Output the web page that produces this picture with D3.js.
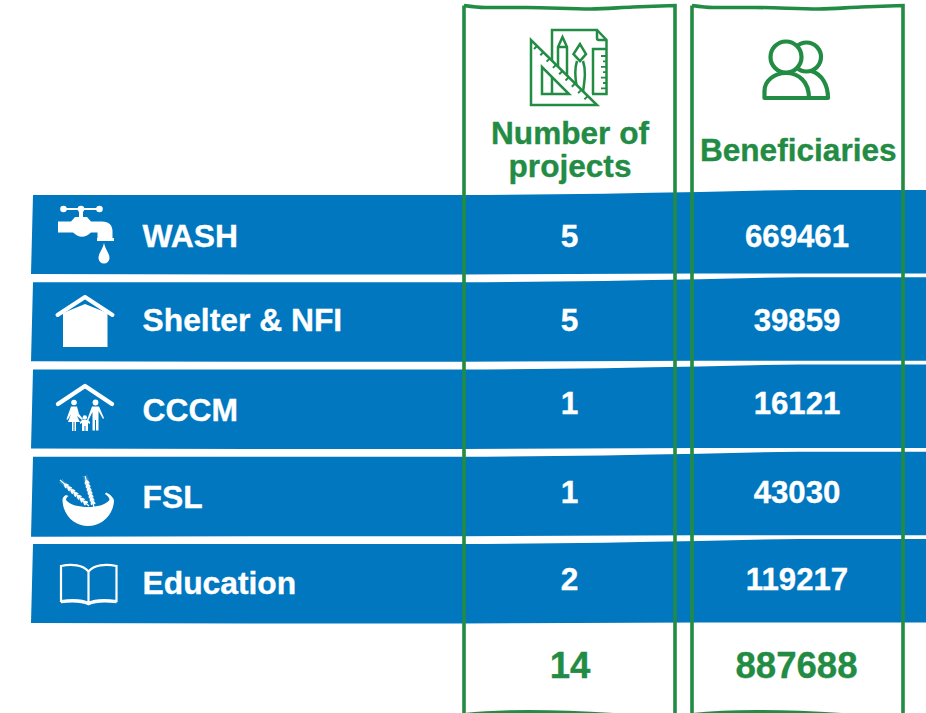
<!DOCTYPE html>
<html><head><meta charset="utf-8"><script src="https://cdn.jsdelivr.net/npm/d3@7"></script>
<style>html,body{margin:0;padding:0;background:#fff}svg{display:block}text{font-family:"Liberation Sans",Arial,sans-serif;font-weight:700;stroke:currentColor;stroke-width:.35px}</style></head>
<body><svg id="c" width="926" height="713"></svg>
<script>
const categories=["WASH","Shelter & NFI","CCCM","FSL","Education"];
const projects=[5,5,1,1,2];
const beneficiaries=[669461,39859,16121,43030,119217];
const totalLabels=["14","887688"];
const columnTitles=[["Number of","projects"],["Beneficiaries"]];
const BLUE="#0077bf",GREEN="#238c44";
const svg=d3.select("#c");
const y=d3.scaleBand().domain(categories).range([195,623]).paddingInner(0.0946).paddingOuter(0);
const xc=d3.scaleOrdinal().domain(["p","b"]).range([569.5,797]);
const labelBase=[52,48.75,51.5,51.25,50];
const valueBase=[52,48.75,44.5,46.25,46];
const addText=(g,x,yy,t,size,col,anchor)=>g.append("text").attr("x",x).attr("y",yy).attr("text-anchor",anchor||"middle").attr("font-size",size).attr("fill",col).style("color",col).text(t);
const rowG=svg.append("g");
categories.forEach((c,i)=>{
  const t=y(c),b=t+y.bandwidth();
  const top=[[33,t],[250,t],[460,t],[700,t-3],[800,t-5],[926,t-5]];
  const bot=[[926,b-.5],[700,b-.5],[460,b+.5],[250,b+.5],[31,b+(i==3?1:0)]];
  const dTop=d3.line().curve(d3.curveMonotoneX)(top);
  const dBot=d3.line()(bot);
  rowG.append("path").attr("d",dTop+"L"+dBot.slice(1)+"Z").attr("fill",BLUE);
  addText(rowG,142.5,t+labelBase[i],c,31.8,"#fff","start");
  addText(rowG,xc("p"),t+valueBase[i],projects[i],31.6,"#fff");
  addText(rowG,xc("b"),t+valueBase[i],beneficiaries[i],31.2,"#fff");
});
// column frames
[[464,675],[692,903]].forEach(([l,r])=>{
  const w=r-l;
  const frameTop=[[l,5.5],[l+w*.1,7.5],[l+w*.3,7.5],[l+w*.6,9],[l+w*.8,7],[r,5.5]];
  const d=d3.line().curve(d3.curveMonotoneX)(frameTop);
  svg.append("path").attr("d",d+"L"+r+",713M"+l+",5.5L"+l+",713").attr("fill","none").attr("stroke",GREEN).attr("stroke-width",3.6);
  svg.append("path").attr("d",`M${l},713 Q${l+55},707 ${l+150},713 Z`).attr("fill",GREEN);
});
// titles
addText(svg,570,143.5,columnTitles[0][0],31.6,GREEN);
addText(svg,570,177,columnTitles[0][1],31.6,GREEN);
addText(svg,798.3,160.5,columnTitles[1][0],31.6,GREEN);
addText(svg,570,678,totalLabels[0],36.6,GREEN);
addText(svg,796.5,678,totalLabels[1],36.6,GREEN);
// people icon
const pe=svg.append("g").attr("fill","none").attr("stroke",GREEN).attr("stroke-width",4.2).attr("stroke-linejoin","round");
pe.append("circle").attr("cx",806.5).attr("cy",57).attr("r",14.5);
pe.append("path").attr("d","M811,71 C822,74 828,85 828,98 H808");
pe.append("circle").attr("cx",786).attr("cy",57).attr("r",15.5).attr("fill","#fff");
pe.append("path").attr("d","M764.5,98 V91 C764.5,81 774,73 786,73 C799,73 809,82 809,98 Z").attr("fill","#fff");
// design tools icon
const de=svg.append("g").attr("fill","none").attr("stroke",GREEN).attr("stroke-width",2.5).attr("stroke-linejoin","miter");
de.append("path").attr("d","M552,62 V30 H597 L606.5,40 V94 H592");
de.append("path").attr("d","M597,30 V38 Q597,40 599,40 H606.5");
de.append("path").attr("d","M558,80 V47 L562.5,37 L567,47 V85 M558,47 H567");
de.append("path").attr("d","M580,44 L573.5,54 L580,61 L586,54 Z M577,61 C574,70 575,78 577,88 M583,61 C586,70 585,78 583,92");
de.append("path").attr("d","M593,94 V49 H606.5");
de.append("path").attr("d","M531,40 V105 H597 Z").attr("fill","#fff");
de.append("path").attr("d","M542,67 V94 H569 Z");
de.append("path").attr("d","M552,77 V94");
de.append("path").attr("d",d3.range(9).map(k=>`M${537+k*6.3},${46+k*6.3} l-3,3`).join("")).attr("stroke-width",2);
de.append("path").attr("d",d3.range(7).map(k=>`M606,${56+k*5.4} h-${k%2?3:5}`).join("")).attr("stroke-width",1.8);
// white row icons
const ic=svg.append("g").attr("fill","#fff");
const stroke=(d,sw)=>ic.append("path").attr("d",d).attr("fill","none").attr("stroke","#fff").attr("stroke-width",sw).attr("stroke-linecap","round").attr("stroke-linejoin","round");
// tap
stroke("M63,209 H99",2.2);
[63.5,81,99.5].forEach(cx=>ic.append("circle").attr("cx",cx).attr("cy",209).attr("r",3.3));
ic.append("path").attr("d","M79,209 h4 v9 h-4 Z");
ic.append("path").attr("d","M58,221.5 H71 L75,217 H87 L91,221.5 H102 Q112.5,221.5 112.5,232 V238 H114 V241 H97 V238 H97.5 V232.5 H91 Q82,241 73,232.5 H58 Z");
ic.append("path").attr("d","M104,243 C105.5,250 109.5,253 109.5,258 A5.5,5.5 0 0 1 98.5,258 C98.5,253 102.5,250 104,243 Z");
// house
ic.append("path").attr("d","M63,313 L85,304 L107.5,313 V347 H63 Z");
stroke("M57.5,315 L85,297 L112.5,315",4);
// family under roof
stroke("M58,404 L85,386 L112,404",4.4);
ic.append("circle").attr("cx",74).attr("cy",402.5).attr("r",2.8);
ic.append("circle").attr("cx",95.5).attr("cy",402.5).attr("r",2.9);
ic.append("circle").attr("cx",84.8).attr("cy",417.5).attr("r",2.2);
ic.append("path").attr("d","M71,406.5 H77 L79,414 L83,419 L82,420 L77,416 L80,422 H76 V431 H74.5 V422 H73.5 V431 H72 V422 H68 L71,414 L67.5,420 L66.5,419 Z");
ic.append("path").attr("d","M92,406.5 H99 L104,418 L103,419 L98.5,411 V430.5 H96 V420 H95 V430.5 H92.5 V412 L88,421 L87,420 Z");
ic.append("path").attr("d","M82,420 H88 L90,422 V424 L88,423 V431 H85.5 V426 H84.5 V431 H82 V423 L80,424 V422 Z");
// bowl
ic.append("path").attr("d","M62.5,500 C63,516 75,526 88,526 C101,526 113,516 114,501 C114,498 110,494 106,492.5 L105,494 C108,496 109.5,498 109.5,500 C105,505 97,507 88,507 C79,507 70,505 66,500 C66,498 67,497 68.5,496 L66,495 C63.5,496 62.5,498 62.5,500 Z");
// wheat
const wheat=svg.append("g");
const stalks=[[[85,476],[94,507]],[[60,480],[89,506]]];
stalks.forEach(([a,b])=>{
  const ang=Math.atan2(b[1]-a[1],b[0]-a[0])*180/Math.PI;
  wheat.append("path").attr("d",d3.line()([a,b])).attr("stroke","#fff").attr("stroke-width",1.2).attr("fill","none");
  d3.range(0.25,1,0.11).forEach(u=>{
    const px=a[0]+(b[0]-a[0])*u,py=a[1]+(b[1]-a[1])*u;
    [-1,1].forEach(sg=>{
      wheat.append("ellipse").attr("rx",2.4).attr("ry",1.1).attr("fill","#fff")
        .attr("transform",`translate(${px},${py}) rotate(${ang+sg*30}) translate(-1,${sg*1.6})`);
      wheat.append("path").attr("d",`M${px},${py} l${-9*Math.cos((ang+sg*14)*Math.PI/180)},${-9*Math.sin((ang+sg*14)*Math.PI/180)}`).attr("stroke","#fff").attr("stroke-width",.5).attr("opacity",.45);
    });
  });
});
// book
const bk=svg.append("g").attr("fill","none").attr("stroke","#fff").attr("stroke-width",2.2);
bk.append("path").attr("d","M88.5,571.5 C83,565 72,563.5 61,566 V601 C72,599.5 82,599.5 88.5,603 C95,599.5 105,599.5 116.5,601 V566 C105,563.5 94,565 88.5,571.5 V603");
bk.append("path").attr("d","M61,602.5 C72,601 82,601.5 88.5,604.5 C95,601.5 105,601 116.5,602.5").attr("stroke-width",1.6);
</script></body></html>
